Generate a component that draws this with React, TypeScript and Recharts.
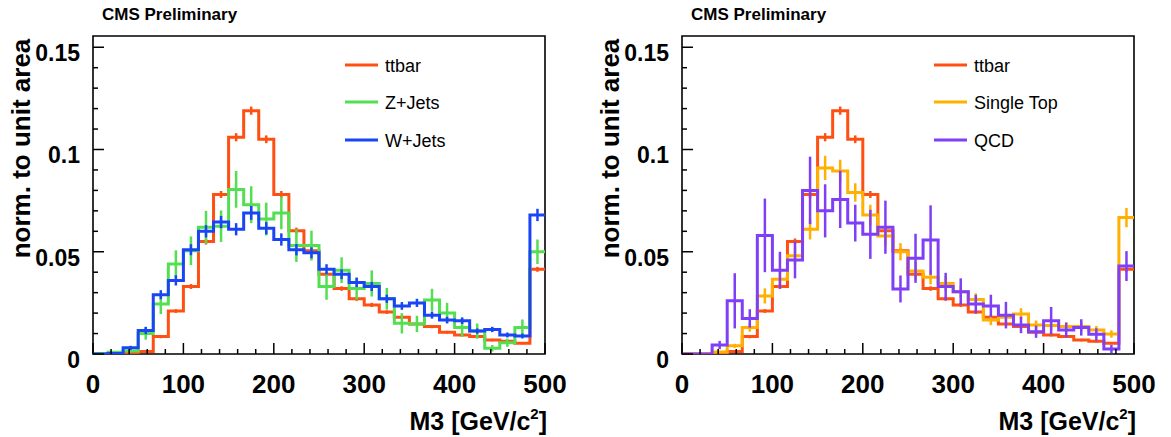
import React from 'react';
import { ComposedChart, Line, Scatter, ErrorBar, XAxis, YAxis, ReferenceArea } from 'recharts';

// ---------- data ----------
const NBINS = 30;
const XMAX = 500;

const ttbar = [0, 0, 0.0003, 0.0012, 0.0085, 0.021, 0.033, 0.055, 0.078, 0.106, 0.119, 0.105, 0.078, 0.0603, 0.0505, 0.039, 0.032, 0.027, 0.024, 0.0205, 0.018, 0.0147, 0.0134, 0.0106, 0.0093, 0.0085, 0.0068, 0.0062, 0.0052, 0.0414];
const ttbarErr = [0, 0, 0.0003, 0.0006, 0.0008, 0.0009, 0.0012, 0.0015, 0.0017, 0.002, 0.002, 0.0019, 0.0017, 0.0015, 0.0013, 0.0012, 0.0011, 0.001, 0.001, 0.0009, 0.0009, 0.0008, 0.0008, 0.0007, 0.0007, 0.0006, 0.0006, 0.0006, 0.0005, 0.0012];

const zjets = [0.0003, 0.0008, 0.0015, 0.010, 0.0245, 0.044, 0.0505, 0.062, 0.0625, 0.0805, 0.073, 0.066, 0.069, 0.053, 0.053, 0.033, 0.041, 0.032, 0.0345, 0.027, 0.015, 0.0147, 0.0264, 0.020, 0.0129, 0.0112, 0.0028, 0.0055, 0.0129, 0.050];
const zjetsErr = [0.0003, 0.0005, 0.0008, 0.003, 0.005, 0.0067, 0.007, 0.008, 0.0077, 0.009, 0.009, 0.008, 0.008, 0.008, 0.0073, 0.0065, 0.0063, 0.0054, 0.0064, 0.0053, 0.005, 0.004, 0.0055, 0.005, 0.0045, 0.0037, 0.0016, 0.002, 0.004, 0.006];

const wjets = [0, 0.0003, 0.003, 0.0115, 0.029, 0.036, 0.051, 0.060, 0.0645, 0.061, 0.069, 0.0615, 0.056, 0.051, 0.0495, 0.0414, 0.039, 0.035, 0.033, 0.027, 0.0235, 0.025, 0.019, 0.0166, 0.0163, 0.0112, 0.012, 0.0093, 0.0088, 0.068];
const wjetsErr = [0, 0.0003, 0.001, 0.0018, 0.0022, 0.0025, 0.0027, 0.003, 0.003, 0.003, 0.0034, 0.003, 0.003, 0.0028, 0.0027, 0.0025, 0.0024, 0.0023, 0.0022, 0.002, 0.0019, 0.002, 0.0017, 0.0016, 0.0016, 0.0013, 0.0013, 0.0012, 0.0012, 0.003];

const singleTop = [0, 0, 0.001, 0.004, 0.0129, 0.0284, 0.0365, 0.048, 0.061, 0.091, 0.0895, 0.079, 0.068, 0.0577, 0.050, 0.0406, 0.0375, 0.0345, 0.0305, 0.0267, 0.0166, 0.018, 0.0196, 0.0142, 0.0139, 0.0134, 0.0134, 0.0117, 0.0098, 0.0667];
const singleTopErr = [0, 0, 0.0005, 0.001, 0.002, 0.0037, 0.004, 0.0045, 0.005, 0.0059, 0.0055, 0.0045, 0.005, 0.0045, 0.0042, 0.0045, 0.0035, 0.0035, 0.003, 0.003, 0.0025, 0.0025, 0.0028, 0.0022, 0.0022, 0.0022, 0.0022, 0.002, 0.0018, 0.0047];

const qcd = [0, 0, 0.0044, 0.026, 0.0174, 0.058, 0.041, 0.046, 0.080, 0.070, 0.0756, 0.064, 0.0585, 0.062, 0.0318, 0.0468, 0.0557, 0.033, 0.0305, 0.0244, 0.0235, 0.019, 0.0142, 0.0109, 0.0163, 0.0117, 0.013, 0.0096, 0.0024, 0.043];
const qcdErr = [0, 0, 0.002, 0.0135, 0.0045, 0.018, 0.009, 0.009, 0.0165, 0.013, 0.014, 0.009, 0.012, 0.013, 0.0066, 0.012, 0.017, 0.0067, 0.0065, 0.0045, 0.0055, 0.0065, 0.004, 0.003, 0.0067, 0.0036, 0.004, 0.003, 0.002, 0.0073];

const xTicks = [0, 20, 40, 60, 80, 100, 120, 140, 160, 180, 200, 220, 240, 260, 280, 300, 320, 340, 360, 380, 400, 420, 440, 460, 480, 500];
const xLabels = [0, 100, 200, 300, 400, 500];
const yTicks = [0, 0.01, 0.02, 0.03, 0.04, 0.05, 0.06, 0.07, 0.08, 0.09, 0.1, 0.11, 0.12, 0.13, 0.14, 0.15];
const yLabels = [0, 0.05, 0.1, 0.15];
const YMAX = 0.1555;

const leftSeries = [
  { name: 'ttbar', values: ttbar, errors: ttbarErr, color: '#ff5014' },
  { name: 'Z+Jets', values: zjets, errors: zjetsErr, color: '#52e052' },
  { name: 'W+Jets', values: wjets, errors: wjetsErr, color: '#1a45f5' },
];
const rightSeries = [
  { name: 'ttbar', values: ttbar, errors: ttbarErr, color: '#ff5014' },
  { name: 'Single Top', values: singleTop, errors: singleTopErr, color: '#ffb000' },
  { name: 'QCD', values: qcd, errors: qcdErr, color: '#7f3ff7' },
];

// ---------- helpers ----------
const BW = XMAX / NBINS;
const stepData = (vals: number[]) =>
  vals.map((v, i) => ({ x: i * BW, y: v })).concat([{ x: XMAX, y: vals[vals.length - 1] }]);
const errData = (vals: number[], errs: number[]) =>
  vals.map((v, i) => ({ x: (i + 0.5) * BW, y: v, err: errs[i] }));

const FONT = '"Liberation Sans", Arial, Helvetica, sans-serif';

const XTick = (props: any) => {
  const { x, y, payload } = props;
  const v = payload.value;
  const major = xLabels.some((l) => Math.abs(l - v) < 1e-9);
  return (
    <g>
      <line x1={x} x2={x} y1={y} y2={y - (major ? 11 : 5)} stroke="#000" strokeWidth={1.5} />
      {major && (
        <text x={x} y={y + 39} textAnchor="middle" fontFamily={FONT} fontWeight="bold" fontSize={26} fill="#000">
          {v}
        </text>
      )}
    </g>
  );
};

const YTick = (props: any) => {
  const { x, y, payload } = props;
  const v = payload.value;
  const major = yLabels.some((l) => Math.abs(l - v) < 1e-9);
  return (
    <g>
      <line x1={x} x2={x + (major ? 11 : 5)} y1={y} y2={y} stroke="#000" strokeWidth={1.5} />
      {major && (
        <text x={x - 13} y={y + 14} textAnchor="end" fontFamily={FONT} fontWeight="bold" fontSize={23} fill="#000">
          {String(v)}
        </text>
      )}
    </g>
  );
};

const Empty = () => <g />;

type Series = { name: string; values: number[]; errors: number[]; color: string };

const Panel = ({ series, left, width }: { series: Series[]; left: number; width: number }) => {
  const plotRight = 545;
  return (
    <div style={{ position: 'absolute', left, top: 0, width, height: 437 }}>
      <ComposedChart
        width={width}
        height={437}
        margin={{ top: 36, right: width - plotRight, bottom: 43, left: 33 }}
      >
        <XAxis
          dataKey="x"
          type="number"
          domain={[0, XMAX]}
          ticks={xTicks}
          interval={0}
          allowDataOverflow
          axisLine={false}
          tickLine={false}
          tickSize={0}
          tickMargin={0}
          height={40}
          tick={<XTick />}
        />
        <YAxis
          dataKey="y"
          type="number"
          domain={[0, YMAX]}
          ticks={yTicks}
          interval={0}
          allowDataOverflow
          axisLine={false}
          tickLine={false}
          tickSize={0}
          tickMargin={0}
          width={60}
          tick={<YTick />}
        />
        <ReferenceArea x1={0} x2={XMAX} y1={0} y2={YMAX} fill="none" stroke="#000" strokeWidth={1.6} ifOverflow="visible" />
        {series.flatMap((s) => [
          <Line
            key={s.name + '-line'}
            data={stepData(s.values)}
            dataKey="y"
            type="stepAfter"
            stroke={s.color}
            strokeWidth={3}
            dot={false}
            activeDot={false}
            isAnimationActive={false}
          />,
          <Scatter
            key={s.name + '-err'}
            data={errData(s.values, s.errors)}
            dataKey="y"
            shape={<Empty />}
            isAnimationActive={false}
          >
            <ErrorBar dataKey="err" direction="y" width={0} stroke={s.color} strokeWidth={2.5} />
          </Scatter>,
        ])}
      </ComposedChart>
      <svg
        width={width}
        height={437}
        style={{ position: 'absolute', left: 0, top: 0, pointerEvents: 'none' }}
      >
        <text x={102} y={20} fontFamily={FONT} fontWeight="bold" fontSize={17} fill="#000">
          CMS Preliminary
        </text>
        <text
          transform="translate(30,148.5) rotate(-90)"
          textAnchor="middle"
          fontFamily={FONT}
          fontWeight="bold"
          fontSize={26}
          fill="#000"
        >
          norm. to unit area
        </text>
        <text x={547} y={430} textAnchor="end" fontFamily={FONT} fontWeight="bold" fontSize={25} fill="#000">
          M3 [GeV/c<tspan fontSize={15} dy={-11}>2</tspan>
          <tspan dy={11}>]</tspan>
        </text>
        {series.map((s, i) => {
          const ly = [65, 102, 140][i];
          return (
            <g key={s.name}>
              <line x1={345} x2={378} y1={ly} y2={ly} stroke={s.color} strokeWidth={3} />
              <text x={385} y={ly + 7} fontFamily={FONT} fontSize={18} fill="#000">
                {s.name}
              </text>
            </g>
          );
        })}
      </svg>
    </div>
  );
}

export default function App() {
  return (
    <div style={{ position: 'absolute', left: 0, top: 0, width: 1171, height: 437, overflow: 'hidden', background: '#fff' }}>
      <Panel series={leftSeries} left={0} width={590} />
      <Panel series={rightSeries} left={589} width={582} />
    </div>
  );
}
